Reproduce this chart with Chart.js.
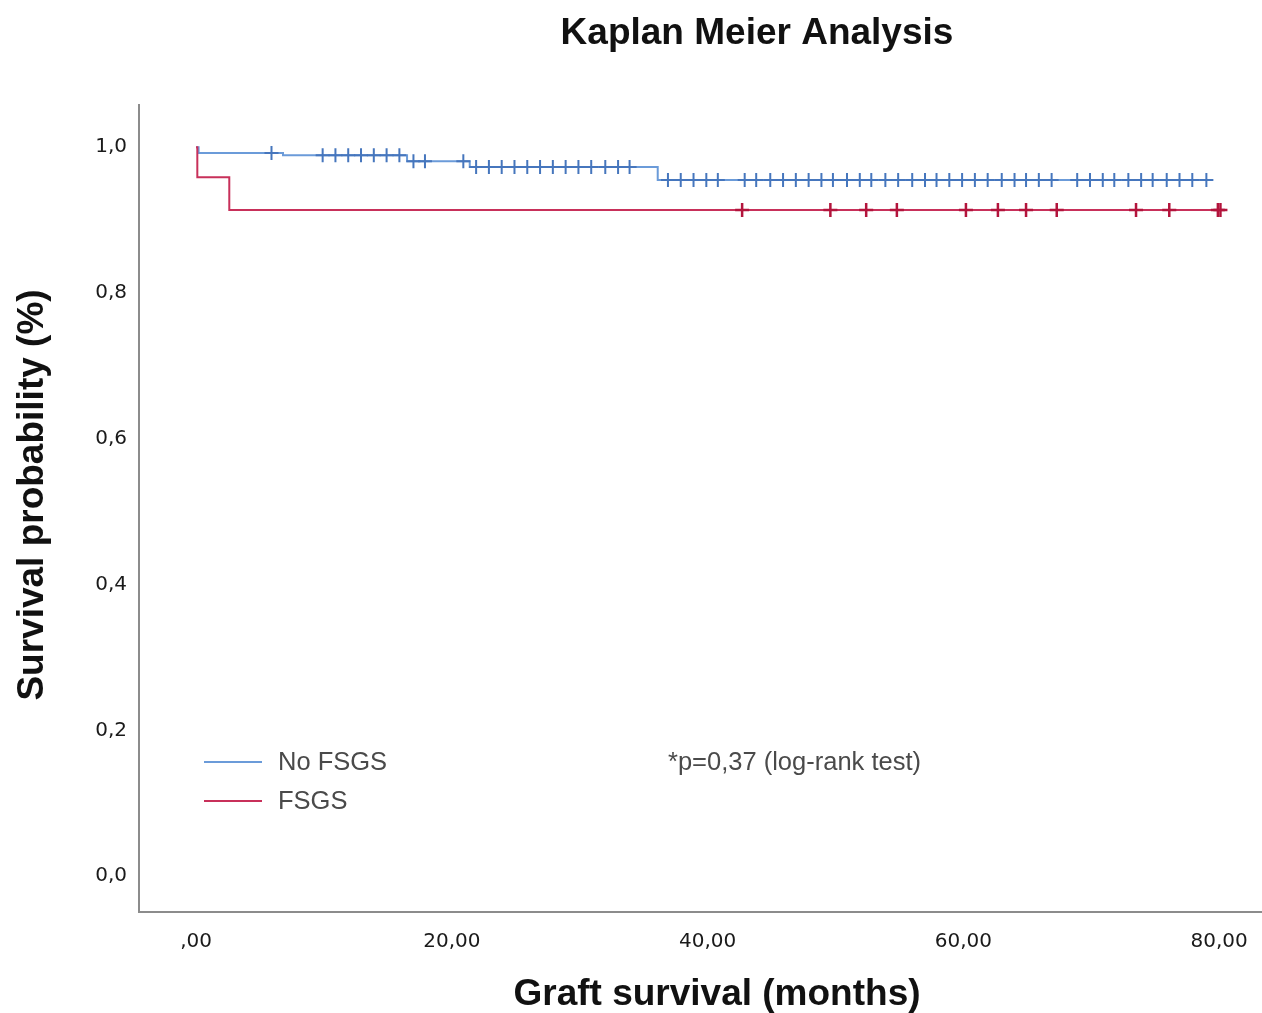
<!DOCTYPE html>
<html>
<head>
<meta charset="utf-8">
<script src="https://cdn.jsdelivr.net/npm/chart.js@4.4.1/dist/chart.umd.min.js"></script>
<style>
  html, body { margin: 0; padding: 0; background: #fff; }
  canvas { display: block; }
</style>
</head>
<body>
<canvas id="km" width="1262" height="1013"></canvas>
<script>
// step points of each curve: time (months) and survival after that step
const noFsgsTimes = [0, 0.2, 6.8, 16.5, 21.4, 36.1, 79.3];
const noFsgsSurv  = [1.0, 0.992, 0.989, 0.981, 0.973, 0.955, 0.955];
const fsgsTimes   = [0, 0.1, 2.6, 80.2];
const fsgsSurv    = [1.0, 0.959, 0.914, 0.914];

// censored cases (the little crosses)
const noFsgsCensored = [5.9, 9.9, 10.9, 11.9, 12.9, 13.9, 14.9, 15.9, 17.0, 17.9,
  20.9, 21.9, 22.9, 23.9, 24.9, 25.9, 26.9, 27.9, 28.9, 29.9, 30.9, 32.0, 33.0, 33.9,
  36.9, 37.9, 38.9, 39.9, 40.8, 42.9, 43.8, 44.9, 45.9, 46.9, 47.9, 48.9, 49.8, 50.9,
  51.9, 52.8, 53.9, 54.9, 56.0, 57.0, 57.9, 58.9, 59.9, 60.9, 61.9, 63.0, 64.0, 64.9,
  65.9, 66.9, 68.9, 69.9, 70.9, 71.8, 72.9, 73.9, 74.8, 75.9, 76.9, 77.9, 79.0];
const fsgsCensored = [42.7, 49.6, 52.4, 54.8, 60.2, 62.7, 64.9, 67.3, 73.5, 76.1, 79.9, 80.1];

const xTicks = [0, 20, 40, 60, 80];
const yTicks = [0, 0.2, 0.4, 0.6, 0.8, 1.0];

const blueLine = '#6b9bd9';
const blueMark = '#4676bd';
const redLine = '#c8305a';
const redMark = '#b3143c';

function survAt(times, surv, t) {
  let s = surv[0];
  for (let i = 0; i < times.length; i++) {
    if (times[i] <= t) s = surv[i];
  }
  return s;
}

function toPoints(times, surv) {
  return times.map((t, i) => ({x: t, y: surv[i]}));
}

function censorPoints(list, times, surv) {
  return list.map(t => ({x: t, y: survAt(times, surv, t)}));
}

// titles, legend and p-value are drawn on top of the plot
const textPlugin = {
  id: 'texts',
  afterDraw(chart) {
    const ctx = chart.ctx;
    ctx.save();
    ctx.fillStyle = '#111';
    ctx.textAlign = 'center';
    ctx.textBaseline = 'middle';
    ctx.font = 'bold 37px "Liberation Sans", Arial, sans-serif';
    ctx.fillText('Kaplan Meier Analysis', 757, 34);
    ctx.fillText('Graft survival (months)', 717, 995);
    ctx.save();
    ctx.translate(33, 495);
    ctx.rotate(-Math.PI / 2);
    ctx.fillText('Survival probability (%)', 0, 0);
    ctx.restore();

    ctx.lineWidth = 2;
    ctx.strokeStyle = blueLine;
    ctx.beginPath(); ctx.moveTo(204, 762); ctx.lineTo(262, 762); ctx.stroke();
    ctx.strokeStyle = redLine;
    ctx.beginPath(); ctx.moveTo(204, 801); ctx.lineTo(262, 801); ctx.stroke();

    ctx.fillStyle = '#4a4a4a';
    ctx.textAlign = 'left';
    ctx.font = '25.5px "Liberation Sans", Arial, sans-serif';
    ctx.fillText('No FSGS', 278, 763);
    ctx.fillText('FSGS', 278, 802);
    ctx.fillText('*p=0,37 (log-rank test)', 668, 763);
    ctx.restore();
  }
};

new Chart(document.getElementById('km'), {
  type: 'scatter',
  data: {
    datasets: [
      {
        label: 'No FSGS',
        data: toPoints(noFsgsTimes, noFsgsSurv),
        showLine: true,
        stepped: 'before',
        borderColor: blueLine,
        borderWidth: 2,
        pointRadius: 0,
        order: 4
      },
      {
        label: 'FSGS',
        data: toPoints(fsgsTimes, fsgsSurv),
        showLine: true,
        stepped: 'before',
        borderColor: redLine,
        borderWidth: 2,
        pointRadius: 0,
        order: 3
      },
      {
        label: 'No FSGS censored',
        data: censorPoints(noFsgsCensored, noFsgsTimes, noFsgsSurv),
        showLine: false,
        pointStyle: 'cross',
        pointRadius: 7,
        borderColor: blueMark,
        borderWidth: 2,
        order: 2
      },
      {
        label: 'FSGS censored',
        data: censorPoints(fsgsCensored, fsgsTimes, fsgsSurv),
        showLine: false,
        pointStyle: 'cross',
        pointRadius: 7,
        borderColor: redMark,
        borderWidth: 2.5,
        order: 1
      }
    ]
  },
  options: {
    responsive: false,
    animation: false,
    devicePixelRatio: 1,
    layout: {autoPadding: false, padding: {top: 105, left: 0, right: 0, bottom: 0}},
    clip: false,
    plugins: {
      legend: {display: false},
      title: {display: false},
      tooltip: {enabled: false}
    },
    scales: {
      x: {
        type: 'linear',
        min: -4.46,
        max: 83.35,
        afterBuildTicks: s => { s.ticks = xTicks.map(v => ({value: v})); },
        afterFit: s => { s.height = 101; s.paddingLeft = 0; s.paddingRight = 0; },
        grid: {display: false},
        border: {display: true, color: '#8c8c8c', width: 2},
        ticks: {
          padding: 10,
          color: '#1a1a1a',
          font: {family: '"DejaVu Sans", Verdana, sans-serif', size: 20},
          callback: v => v === 0 ? ',00' : v.toFixed(2).replace('.', ',')
        }
      },
      y: {
        type: 'linear',
        min: -0.049,
        max: 1.058,
        afterBuildTicks: s => { s.ticks = yTicks.map(v => ({value: v})); },
        afterFit: s => { s.width = 139; s.paddingTop = 0; s.paddingBottom = 0; },
        grid: {display: false},
        border: {display: true, color: '#8c8c8c', width: 2},
        ticks: {
          padding: 4,
          color: '#1a1a1a',
          font: {family: '"DejaVu Sans", Verdana, sans-serif', size: 20},
          callback: v => v.toFixed(1).replace('.', ',')
        }
      }
    }
  },
  plugins: [textPlugin]
});
</script>
</body>
</html>
